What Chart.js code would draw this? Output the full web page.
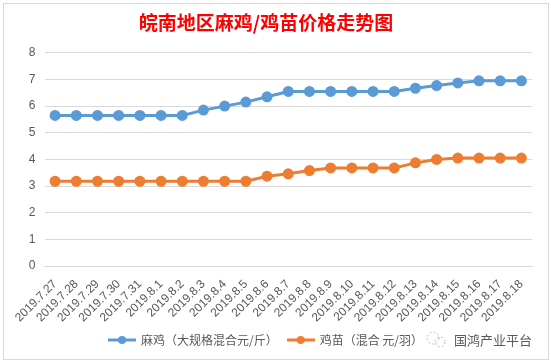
<!DOCTYPE html>
<html>
<head>
<meta charset="utf-8">
<script src="https://cdn.jsdelivr.net/npm/chart.js@4.4.1/dist/chart.umd.min.js"></script>
<style>
    body { margin: 0; background: #fff; }
    #wrap { position: relative; width: 551px; height: 362px; }
    #frame { position: absolute; left: 3px; top: 3px; width: 544px; height: 355px; border: 1px solid #d9d9d9; pointer-events: none; }
    #mark { position: absolute; left: 426px; top: 330px; font: 13px "Noto Sans CJK SC"; color: #595959; }
    #mark svg { vertical-align: -4px; margin-right: 6px; }
</style>
</head>
<body>
<div id="wrap">
    <canvas id="myChart" width="551" height="362"></canvas>
    <div id="frame"></div>
    <div id="mark"><svg width="22" height="18"><circle cx="7" cy="7" r="6" fill="none" stroke="#bbb" stroke-dasharray="2 2"/><circle cx="14" cy="11" r="5" fill="none" stroke="#bbb" stroke-dasharray="2 2"/></svg>国鸿产业平台</div>
</div>
<script>
let dates = ['2019.7.27', '2019.7.28', '2019.7.29', '2019.7.30', '2019.7.31', '2019.8.1', '2019.8.2', '2019.8.3',
    '2019.8.4', '2019.8.5', '2019.8.6', '2019.8.7', '2019.8.8', '2019.8.9', '2019.8.10', '2019.8.11', '2019.8.12',
    '2019.8.13', '2019.8.14', '2019.8.15', '2019.8.16', '2019.8.17', '2019.8.18'];
let maJi = [5.65, 5.65, 5.65, 5.65, 5.65, 5.65, 5.65, 5.85, 6.0, 6.15, 6.35, 6.55, 6.55, 6.55, 6.55, 6.55, 6.55,
    6.67, 6.77, 6.87, 6.95, 6.95, 6.95];
let jiMiao = [3.18, 3.18, 3.18, 3.18, 3.18, 3.18, 3.18, 3.18, 3.18, 3.18, 3.37, 3.46, 3.58, 3.68, 3.68, 3.68, 3.68,
    3.87, 4.0, 4.05, 4.05, 4.05, 4.05];
let yTicks = [0, 1, 2, 3, 4, 5, 6, 7, 8];

const BLUE = '#5b9bd5';
const ORANGE = '#ed7d31';

// legend marker: short line with a dot in the middle
function legendIcon(color) {
    let c = document.createElement('canvas');
    c.width = 28;
    c.height = 10;
    let ctx = c.getContext('2d');
    ctx.strokeStyle = color;
    ctx.lineWidth = 3;
    ctx.beginPath();
    ctx.moveTo(0, 5);
    ctx.lineTo(28, 5);
    ctx.stroke();
    ctx.fillStyle = color;
    ctx.beginPath();
    ctx.arc(14, 5, 4, 0, Math.PI * 2);
    ctx.fill();
    return c;
}

let data = {
    labels: dates,
    datasets: [
        {
            label: '麻鸡（大规格混合元/斤）',
            data: maJi,
            borderColor: BLUE,
            backgroundColor: BLUE,
            borderWidth: 3,
            pointRadius: 4,
            tension: 0,
        }, {
            label: '鸡苗（混合 元/羽）',
            data: jiMiao,
            borderColor: ORANGE,
            backgroundColor: ORANGE,
            borderWidth: 3,
            pointRadius: 4,
            tension: 0,
        }]
};

const config = {
    type: 'line',
    data: data,
    options: {
        responsive: false,
        animation: false,
        layout: { padding: { left: 0, right: 19, top: 0, bottom: 6 } },
        plugins: {
            title: {
                display: true,
                text: '皖南地区麻鸡/鸡苗价格走势图',
                color: '#ff0000',
                font: { family: '"Noto Sans CJK SC"', size: 19, weight: 'bold' },
                padding: { top: 11, bottom: 19 }
            },
            legend: {
                position: 'bottom',
                align: 'center',
                labels: {
                    usePointStyle: true,
                    pointStyleWidth: 26,
                    color: '#595959',
                    font: { family: '"Noto Sans CJK SC"', size: 12 },
                    padding: 10,
                    generateLabels: function (chart) {
                        return chart.data.datasets.map((ds, i) => ({
                            text: ds.label,
                            fontColor: '#595959',
                            pointStyle: legendIcon(ds.borderColor),
                            datasetIndex: i,
                            hidden: false,
                            lineWidth: 0,
                        }));
                    }
                }
            },
            tooltip: { enabled: false }
        },
        scales: {
            x: {
                offset: true,
                afterFit: function (scale) { scale.height = 58; },
                grid: { display: false },
                border: { color: '#d9d9d9' },
                ticks: {
                    minRotation: 45,
                    maxRotation: 45,
                    autoSkip: false,
                    color: '#595959',
                    font: { family: '"Liberation Sans Narrow", "Liberation Sans"', size: 12 }
                }
            },
            y: {
                min: 0,
                max: 8,
                afterFit: function (scale) { scale.width = 44.5; },
                afterBuildTicks: function (scale) { scale.ticks = yTicks.map(v => ({ value: v })); },
                grid: { color: '#d9d9d9', drawTicks: false },
                border: { display: false },
                ticks: {
                    padding: 9,
                    color: '#595959',
                    font: { family: '"Liberation Sans"', size: 12 }
                }
            }
        }
    }
};

let myChart = new Chart(document.getElementById('myChart'), config);
</script>
</body>
</html>
